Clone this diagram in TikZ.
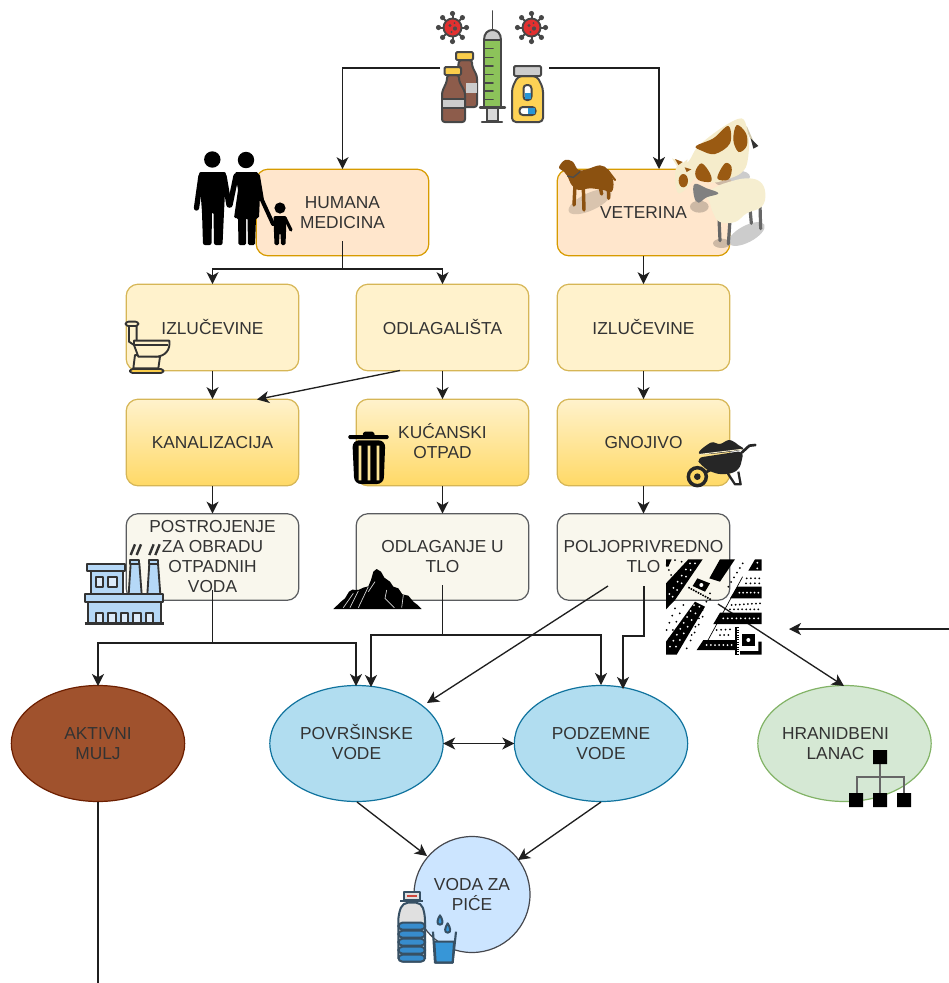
\documentclass[tikz,border=0pt]{standalone}
\usepackage{fontspec}
\setmainfont{Liberation Sans}
\usetikzlibrary{arrows.meta,shapes.geometric,calc}
\definecolor{txt}{HTML}{333333}
\definecolor{ic}{HTML}{474747}
\definecolor{cowb}{HTML}{9A5A12}
\definecolor{cream}{HTML}{F5ECCB}
\definecolor{peachf}{HTML}{FFE6CC}
\definecolor{peachd}{HTML}{D79B00}
\definecolor{palef}{HTML}{FFF2CC}
\definecolor{paled}{HTML}{D6B656}
\definecolor{gradb}{HTML}{FFD966}
\definecolor{ivoryf}{HTML}{F9F7ED}
\definecolor{ivoryd}{HTML}{5A5C5F}
\definecolor{brownf}{HTML}{A0522D}
\definecolor{brownd}{HTML}{6D1F00}
\definecolor{bluef}{HTML}{B1DDF0}
\definecolor{blued}{HTML}{10739E}
\definecolor{greenf}{HTML}{D5E8D4}
\definecolor{greend}{HTML}{82B366}
\definecolor{circf}{HTML}{CCE5FF}
\definecolor{circd}{HTML}{46484E}
\definecolor{virred}{HTML}{E23030}
\definecolor{bottleb}{HTML}{8D5C4B}
\definecolor{capy}{HTML}{FACD4B}
\definecolor{syrg}{HTML}{8CC35A}
\definecolor{vialy}{HTML}{FDD255}
\definecolor{pillb}{HTML}{2896D7}
\definecolor{binstr}{HTML}{FCE496}
\definecolor{facb}{HTML}{B5D8F7}
\definecolor{facw}{HTML}{DCEBFA}
\definecolor{wheely}{HTML}{FDD764}
\definecolor{watd}{HTML}{375064}
\definecolor{watb}{HTML}{378CCD}
\definecolor{watc}{HTML}{3796D7}
\definecolor{capr}{HTML}{CD463C}
\definecolor{shadt}{HTML}{CDB9A5}
\tikzset{
  conn/.style={line width=1pt,draw=black!88},
  arr/.style={conn,-{Stealth[length=9pt,width=9pt,inset=2.5pt]}},
  darr/.style={conn,{Stealth[length=9pt,width=9pt,inset=2.5pt]}-{Stealth[length=9pt,width=9pt,inset=2.5pt]}},
  lbl/.style={align=center,text=txt,font=\fontsize{13}{15}\selectfont,inner sep=0pt,outer sep=0pt},
  roundbox/.style={lbl,rectangle,rounded corners=9pt,minimum width=129.5pt,minimum height=65pt,line width=.9pt},
  peach/.style={roundbox,fill=peachf,draw=peachd},
  pale/.style={roundbox,fill=palef,draw=paled},
  grad/.style={roundbox,top color=palef,bottom color=gradb,draw=paled},
  ivory/.style={roundbox,fill=ivoryf,draw=ivoryd},
  oval/.style={lbl,ellipse,minimum width=130pt,minimum height=87pt,line width=.9pt},
  ico/.style={draw=ic,line width=1.5pt,line join=round,line cap=round},
  zoomed/.style={x=.25pt,y=-.25pt},
}
\newcommand{\virusicon}[2]{%
  \begin{scope}[shift={(#1,#2)}]
    \foreach \a in {0,45,...,315}{
      \draw[ic,line width=1.5pt] (0,0) -- (\a:13.5);
      \fill[ic] (\a:14) circle (2.6);
    }
    \draw[ic,line width=1.4pt,fill=virred] (0,0) circle (9);
    \fill[black!70] (-2.5,-2) circle (1.7) (2.5,1) circle (2.1) (-1,4.5) circle (1.2) (2,-4.5) circle (1);
  \end{scope}}
\newcommand{\dotrow}[4]{%
  \foreach \i in {0,...,#3}{\fill[#4] ($#1!{\i/#3}!#2$) circle (3);}}
\newcommand{\capline}[1]{\raisebox{0pt}[9.3pt][0pt]{#1}}
\begin{document}
\begin{tikzpicture}[x=.75pt,y=-.75pt]
\useasboundingbox (0,0) rectangle (949,983);
% ---- nodes
\node[peach] (hum) at (342.5,212.5) {HUMANA\\MEDICINA};
\node[peach] (vet) at (643.5,212.5) {VETERINA};
\node[pale] (izl) at (212.5,327.5) {IZLUČEVINE};
\node[pale] (odl) at (442.5,327.5) {ODLAGALIŠTA};
\node[pale] (izr) at (643.5,327.5) {IZLUČEVINE};
\node[grad] (kan) at (212.5,442.5) {KANALIZACIJA};
\node[grad] (kuc) at (442.5,442.5) {\capline{KUĆANSKI}\\OTPAD};
\node[grad] (gno) at (643.5,442.5) {GNOJIVO};
\node[ivory] (pos) at (212.5,557) {POSTROJENJE\\ZA OBRADU\\OTPADNIH\\VODA};
\node[ivory] (odt) at (442.5,557) {ODLAGANJE U\\TLO};
\node[ivory] (pol) at (643.5,557) {POLJOPRIVREDNO\\TLO};
\node[oval,fill=brownf,draw=brownd] (akt) at (98,743.5) {AKTIVNI\\MULJ};
\node[oval,fill=bluef,draw=blued] (pov) at (356.5,743.5) {\capline{POVRŠINSKE}\\VODE};
\node[oval,fill=bluef,draw=blued] (pod) at (601,743.5) {PODZEMNE\\VODE};
\node[oval,fill=greenf,draw=greend] (hra) at (844.5,743.5) {\makebox[0pt]{HRANIDBENI\hspace*{13.5pt}}\\\makebox[0pt]{LANAC\hspace*{13.5pt}}};
\node[lbl,circle,minimum size=87pt,line width=.9pt,fill=circf,draw=circd] (pic) at (472,894.5) {VODA ZA\\\capline{PIĆE}};
% ---- free ends
\coordinate (medl) at (440,68);
\coordinate (medr) at (549,68);
\coordinate (vetin) at (659,169);
\coordinate (humo) at (342.5,241);
\coordinate (humj) at (342.5,269);
\coordinate (odlo) at (400,370.5);
\coordinate (kani) at (257,399.5);
\coordinate (posj) at (212.5,643);
\coordinate (posb) at (212.5,590);
\coordinate (akti) at (98,686);
\coordinate (povi) at (356,686);
\coordinate (odto) at (442.5,585);
\coordinate (odtj) at (442.5,635);
\coordinate (povj) at (371,687);
\coordinate (podi) at (601,685);
\coordinate (polo) at (608,586);
\coordinate (povk) at (427,703);
\coordinate (polb) at (644,586);
\coordinate (polj) at (644,636);
\coordinate (podj) at (623,689);
\coordinate (mapo) at (718,604);
\coordinate (hrai) at (844,686);
\coordinate (offr) at (949,629);
\coordinate (offi) at (789,629);
\coordinate (aktb) at (98,983);
\coordinate (povb) at (357,802);
\coordinate (picl) at (427,856);
\coordinate (podb) at (601,802);
\coordinate (picr) at (518,860);
% ---- connectors
\draw[arr] (medl) -| (hum.north);
\draw[arr] (medr) -| (vetin);
\draw[conn] (humo) -- (humj);
\draw[arr] (humj) -| (izl.north);
\draw[arr] (humj) -| (odl.north);
\draw[arr] (vet.south) -- (izr.north);
\draw[arr] (izl.south) -- (kan.north);
\draw[arr] (odl.south) -- (kuc.north);
\draw[arr] (odlo) -- (kani);
\draw[arr] (izr.south) -- (gno.north);
\draw[arr] (kan.south) -- (pos.north);
\draw[arr] (kuc.south) -- (odt.north);
\draw[arr] (gno.south) -- (pol.north);
\draw[conn] (posb) -- (posj);
\draw[arr] (posj) -| (akti);
\draw[arr] (posj) -| (povi);
\draw[conn] (odto) -- (odtj);
\draw[arr] (odtj) -| (povj);
\draw[arr] (odtj) -| (podi);
\draw[arr] (polo) -- (povk);
\draw[arr] (polb) -- (polj) -| (podj);
\draw[arr] (mapo) -- (hrai);
\draw[arr] (offr) -- (offi);
\draw[darr] (pov) -- (pod);
\draw[arr] (povb) -- (picl);
\draw[arr] (podb) -- (picr);
\draw[conn] (akt.south) -- (aktb);
% ---- medicine icons
\virusicon{452.5}{27.5}
\virusicon{531.5}{27.5}
\begin{scope}[ico]
  % back bottle
  \filldraw[fill=bottleb,rounded corners=2pt] (459,60) -- (458,68) -- (457,72) -- (457,107) -- (477,107) -- (477,76) -- (472,66) -- (472,60) -- cycle;
  \fill[black!20] (466,83) rectangle (476.5,93);
  \filldraw[fill=capy,rounded corners=1pt] (456,52) rectangle (473,60);
  % front bottle
  \filldraw[fill=bottleb,rounded corners=2pt] (447,75) -- (447,81) -- (442,92) -- (442,122) -- (465,122) -- (465,92) -- (459,81) -- (459,75) -- cycle;
  \filldraw[fill=black!20] (442,99) rectangle (465,108);
  \filldraw[fill=capy,rounded corners=1pt] (444.5,67) rectangle (461,75);
  % syringe
  \draw[line width=1.2pt] (492.5,11) -- (492.5,30);
  \filldraw[fill=black!20] (484,40) .. controls (484,33) and (488,30) .. (492.5,30) .. controls (497,30) and (501,33) .. (501,40) -- cycle;
  \filldraw[fill=syrg] (484,40) rectangle (501,107);
  \foreach \yy in {48.3,57.3,66,74.3,82.7,91,99.3}{\draw[line width=1.2pt] (484,\yy) -- (493,\yy);}
  \filldraw[fill=black!15] (487,107) rectangle (498,121);
  \draw[line width=1.8pt] (480,107.5) -- (505,107.5);
  \draw[line width=1.8pt] (482,122) -- (502,122);
  % vial
  \filldraw[fill=vialy,rounded corners=3pt] (518,76) -- (512,88) -- (512,122) -- (543,122) -- (543,88) -- (537,76) -- cycle;
  \filldraw[fill=black!20,rounded corners=1pt] (514,66) rectangle (541,76);
  \filldraw[fill=white,rounded corners=2.5pt] (523.5,85) rectangle (531.5,100);
  \fill[pillb] (524.5,93) rectangle (530.5,99);
  \filldraw[fill=white,rounded corners=2.5pt] (519.5,107) rectangle (535.5,115);
  \fill[pillb] (528,108) rectangle (534.5,114);
\end{scope}
% ---- family
\begin{scope}[line cap=round,line join=round]
  \fill[black] (212.3,159.5) circle (8.2) (246,160) circle (8.2) (280,208) circle (5.6);
  \draw[black,line width=4pt] (201,176) -- (196.5,208);
  \draw[black,line width=4pt] (224,176) -- (229,205);
  \fill[black,rounded corners=1.5pt] (199,172) -- (226,172) -- (224,212) -- (222.5,245) -- (214,245) -- (213.5,212) -- (212,212) -- (211.5,245) -- (203,245) -- (202,212) -- cycle;
  \draw[black,line width=4pt] (236,176) -- (230,205);
  \draw[black,line width=3pt] (258,176) -- (262,200) -- (273,224);
  \fill[black,rounded corners=1pt] (235,172) -- (258,172) -- (260,195) -- (259,218) -- (256,218) -- (255,245) -- (248,245) -- (247.5,218) -- (246,218) -- (246,245) -- (238.5,245) -- (238,218) -- (234,218) -- (238,190) -- cycle;
  \fill[black,rounded corners=1pt] (273.5,216) -- (286.5,216) -- (286,232) -- (285.5,245) -- (281,245) -- (280.5,233) -- (279.5,233) -- (279,245) -- (274.5,245) -- (274,232) -- cycle;
  \draw[black,line width=2.4pt] (285,218) -- (291,230);
\end{scope}
% ---- dog, cow, sheep (coordinates as in a 3x crop)
\begin{scope}[shift={(550,110)},zoomed]
  \fill[shadt,opacity=.75] (120,275) ellipse [x radius=70,y radius=26,rotate=25];
  \draw[cowb!90!black,line width=2.6pt,line cap=round] (75,225) -- (72,285) (100,232) -- (102,300) (175,232) -- (176,265) (150,228) -- (155,252);
  \draw[cowb!90!black,line width=1.6pt,line cap=round] (172,180) -- (195,210);
  \fill[cowb!90!black] plot[smooth cycle,tension=.6] coordinates {(27,172) (45,150) (68,155) (85,180) (110,178) (150,166) (175,180) (190,215) (185,245) (160,240) (120,235) (85,240) (65,225) (52,198) (42,185)};
  \draw[black!70,line width=1pt] (52,198) -- (70,202) -- (90,185);
  % cow
  \fill[black!20] (565,200) ellipse [x radius=35,y radius=18];
  \fill[shadt] (520,215) ellipse [x radius=25,y radius=12];
  \draw[cream!85!black,line width=1.4pt] (588,50) -- (608,95);
  \fill[black!80] (602,85) -- (625,108) -- (610,116) -- cycle;
  \fill[cream] plot[smooth cycle,tension=.55] coordinates {(415,155) (445,108) (520,50) (575,25) (592,60) (597,110) (590,165) (572,190) (540,205) (490,218) (440,205) (425,215) (410,235) (385,250) (376,215) (380,170)};
  \fill[cream] (366,145) -- (400,158) -- (412,148) -- (412,170) -- (385,175) -- cycle;
  \fill[cowb] plot[smooth cycle,tension=.6] coordinates {(438,108) (490,85) (535,48) (540,100) (495,132) (455,122)};
  \fill[cowb] plot[smooth cycle,tension=.6] coordinates {(560,45) (588,70) (590,108) (566,126) (550,90)};
  \fill[cowb] plot[smooth cycle,tension=.6] coordinates {(436,185) (455,160) (480,190) (482,215) (445,210)};
  \fill[cowb] plot[smooth cycle,tension=.6] coordinates {(502,205) (525,160) (545,172) (536,208)};
  \fill[cowb] (400,212) ellipse [x radius=14,y radius=20];
  \fill[cowb] (375,147) -- (398,156) -- (385,165) -- cycle;
  \fill[cowb] (404,172) -- (424,178) -- (410,186) -- cycle;
  % sheep
  \fill[shadt] (448,290) ellipse [x radius=28,y radius=18];
  \fill[black!20] (590,372) ellipse [x radius=60,y radius=25,rotate=28];
  \fill[shadt] (515,400) ellipse [x radius=26,y radius=14];
  \draw[black!60,line width=2.4pt,line cap=round] (507,325) -- (510,392) (540,330) -- (535,402) (600,295) -- (604,340) (630,285) -- (632,356);
  \fill[cream!90!white] plot[smooth cycle,tension=.7] coordinates {(470,252) (500,230) (540,215) (590,205) (630,215) (646,250) (635,290) (590,310) (555,336) (510,336) (490,310) (480,280)};
  \fill[black!50] plot[smooth cycle,tension=.7] coordinates {(434,222) (470,235) (505,250) (470,262) (445,278) (432,258)};
\end{scope}
% ---- toilet
\begin{scope}[shift={(110,300)},zoomed,draw=black!80,line width=1.4pt,line join=round]
  \filldraw[fill=palef] (57,78) -- (80,78) -- (80,125) -- (72,135) -- (57,125) -- cycle;
  \filldraw[fill=palef,rounded corners=2pt] (47,65) rectangle (85,78);
  \filldraw[fill=palef] (75,165) -- (70,205) -- (145,205) -- (150,170) -- cycle;
  \filldraw[fill=palef] (72,122) -- (178,122) .. controls (182,150) and (165,168) .. (140,170) -- (85,170) -- (72,135) -- cycle;
  \draw (72,135) -- (175,135);
  \filldraw[fill=capy,rounded corners=2pt] (60,207) rectangle (160,219);
\end{scope}
% ---- trash bin
\begin{scope}[shift={(325,425)},zoomed]
  \fill[black,rounded corners=1pt] (112,32) -- (116,20) -- (146,20) -- (150,32) -- cycle;
  \fill[black,rounded corners=1pt] (70,30) rectangle (191,42);
  \fill[black,rounded corners=5pt] (82,46) -- (181,46) -- (176,177) -- (88,177) -- cycle;
  \fill[binstr] (101,62) rectangle (109,166) (128,62) rectangle (136,166) (155,62) rectangle (163,166);
\end{scope}
% ---- mountain
\begin{scope}[shift={(325,425)},zoomed]
  \fill[black] (25,552) -- (48,530) -- (60,520) -- (72,500) -- (82,494) -- (100,495) -- (115,488) -- (130,484) -- (138,465) -- (145,440) -- (155,432) -- (168,440) -- (178,458) -- (195,470) -- (205,485) -- (220,490) -- (232,508) -- (250,512) -- (265,530) -- (278,540) -- (290,552) -- cycle;
  \draw[white!85!black,line width=.5pt] (100,498) -- (75,548) (130,485) -- (100,548) (150,470) -- (130,500) (185,495) -- (180,520) -- (208,548) (235,510) -- (230,548) (85,505) -- (55,548);
\end{scope}
% ---- factory
\begin{scope}[shift={(80,500)},zoomed,draw=black!80,line width=1.4pt,line join=round]
  \foreach \sx in {0,56}{
    \filldraw[fill=facb] ({152+\sx},190) -- ({178+\sx},190) -- ({185+\sx},283) -- ({146+\sx},283) -- cycle;
    \filldraw[fill=facb] ({150+\sx},180) rectangle ({178+\sx},192);
    \draw[line width=1.8pt] ({152+\sx},165) -- ({165+\sx},133) ({170+\sx},165) -- ({183+\sx},133);
  }
  \filldraw[fill=facb] (33,212) rectangle (128,283);
  \filldraw[fill=facb] (22,193) rectangle (135,213);
  \filldraw[fill=facw] (48,232) rectangle (70,262) (85,232) rectangle (110,262);
  \filldraw[fill=facb] (24,305) rectangle (243,370);
  \filldraw[fill=facb] (15,283) rectangle (250,305);
  \foreach \wx in {47,85,122,160,198}{\filldraw[fill=facw] (\wx,368) -- (\wx,340) -- ({\wx+22},340) -- ({\wx+22},368);}
  \draw[line width=1.8pt] (14,370) -- (253,370);
\end{scope}
% ---- wheelbarrow
\begin{scope}[shift={(670,430)},zoomed]
  \fill[black!85] plot[smooth cycle,tension=.6] coordinates {(90,72) (122,38) (150,42) (178,30) (205,45) (212,60)};
  \fill[black!85,rounded corners=5pt] (78,84) -- (222,62) -- (208,122) -- (165,135) -- (125,128) -- (95,108) -- cycle;
  \draw[cream,line width=.7pt] (90,73) -- (215,58);
  \draw[black!85,line width=2pt,line cap=round,line join=round] (215,68) -- (238,47) -- (256,45);
  \draw[black!85,line width=1.7pt,line join=round] (170,125) -- (195,163) -- (212,163) -- (205,125);
  \draw[black!85,line width=2pt] (82,140) -- (125,118);
  \filldraw[draw=black!85,line width=2.6pt,fill=wheely] (82,140) circle (27);
  \fill[black!85] (82,140) circle (10);
\end{scope}
% ---- land-use map
\begin{scope}[shift={(660,550)},zoomed]
  \fill[black] (85,28) -- (128,28) -- (45,150) -- (18,178) -- (18,100) -- cycle;
  \fill[black] (105,155) -- (135,170) -- (50,314) -- (18,314) -- (18,275) -- cycle;
  \fill[black] (180,28) -- (225,28) -- (180,95) -- (148,85) -- cycle;
  \fill[black] (285,28) -- (305,28) -- (305,62) -- (265,62) -- cycle;
  \fill[black] (232,110) -- (305,110) -- (305,145) -- (210,145) -- cycle;
  \fill[black] (180,188) -- (305,188) -- (305,222) -- (160,222) -- cycle;
  \fill[black] (130,270) -- (225,270) -- (225,300) -- (110,300) -- cycle;
  \fill[black] (112,85) -- (150,100) -- (135,125) -- (98,108) -- cycle;
  \fill[white] (124,105) circle (6);
  \fill[black] (245,252) rectangle (285,288);
  \fill[white] (265,270) circle (6);
  \fill[black] (295,275) -- (305,275) -- (305,314) -- (240,314) -- (240,303) -- (295,303) -- cycle;
  \fill[black] (18,28) -- (35,28) -- (25,50) -- (18,50) -- cycle;
  \draw[black,line width=1.2pt,dash pattern=on 1.2pt off .8pt] (85,112) -- (155,150);
  \draw[black,line width=1.2pt] (228,232) -- (228,314);
  \draw[black,line width=1.6pt,dash pattern=on .8pt off 1pt] (235,232) -- (235,314);
  \draw[black,line width=.5pt] (248,80) -- (130,296);
  \dotrow{(105,40)}{(38,140)}{5}{white}
  \dotrow{(90,40)}{(28,132)}{5}{white}
  \dotrow{(118,170)}{(48,290)}{6}{white}
  \dotrow{(102,165)}{(30,290)}{7}{white}
  \dotrow{(292,38)}{(292,55)}{1}{white}
  \dotrow{(238,128)}{(295,128)}{5}{white}
  \dotrow{(190,205)}{(295,205)}{8}{white}
  \dotrow{(140,285)}{(215,285)}{6}{white}
  \dotrow{(20,45)}{(40,90)}{3}{black}
  \dotrow{(45,30)}{(65,35)}{1}{black}
  \dotrow{(45,175)}{(20,240)}{3}{black}
  \dotrow{(70,165)}{(28,265)}{4}{black}
  \dotrow{(150,130)}{(95,255)}{5}{black}
  \dotrow{(128,200)}{(80,295)}{4}{black}
  \dotrow{(215,165)}{(300,160)}{7}{black}
  \dotrow{(210,178)}{(295,178)}{7}{black}
  \dotrow{(248,40)}{(205,110)}{5}{black}
  \dotrow{(260,85)}{(298,85)}{3}{black}
  \dotrow{(258,100)}{(298,100)}{3}{black}
  \dotrow{(170,240)}{(210,238)}{3}{black}
  \dotrow{(180,255)}{(205,255)}{2}{black}
\end{scope}
% ---- hierarchy
\begin{scope}
  \draw[black!60,line width=2pt] (880,764) -- (880,793) (857,793) -- (857,777) -- (904,777) -- (904,793);
  \fill[black] (873,750) rectangle (887,764) (849,793) rectangle (863,807) (873,793) rectangle (887,807) (897,793) rectangle (911,807);
\end{scope}
% ---- water bottle and glass
\begin{scope}[shift={(380,820)},zoomed,draw=watd,line width=1.5pt,line join=round]
  \filldraw[fill=black!12,rounded corners=4pt] (68,248) -- (124,248) -- (135,285) -- (135,425) -- (55,425) -- (55,285) -- cycle;
  \foreach \yy in {308,332,356,380,404}{\filldraw[fill=watb,rounded corners=3pt] (55,\yy) rectangle (135,{\yy+21});}
  \draw[line width=1.6pt] (60,244) -- (130,244);
  \filldraw[fill=black!12] (72,216) rectangle (120,240);
  \fill[capr] (80,224) rectangle (112,232);
  \filldraw[fill=watc] (163,365) -- (222,365) -- (218,428) -- (167,428) -- cycle;
  \draw[line width=1.6pt] (159,335) -- (165,428) -- (218,428) -- (228,335);
  \filldraw[fill=watc] (180,286) .. controls (172,298) and (168,314) .. (180,314) .. controls (192,314) and (188,298) .. (180,286) -- cycle;
  \filldraw[fill=watc] (203,310) .. controls (195,322) and (191,338) .. (203,338) .. controls (215,338) and (211,322) .. (203,310) -- cycle;
\end{scope}
\end{tikzpicture}
\end{document}
